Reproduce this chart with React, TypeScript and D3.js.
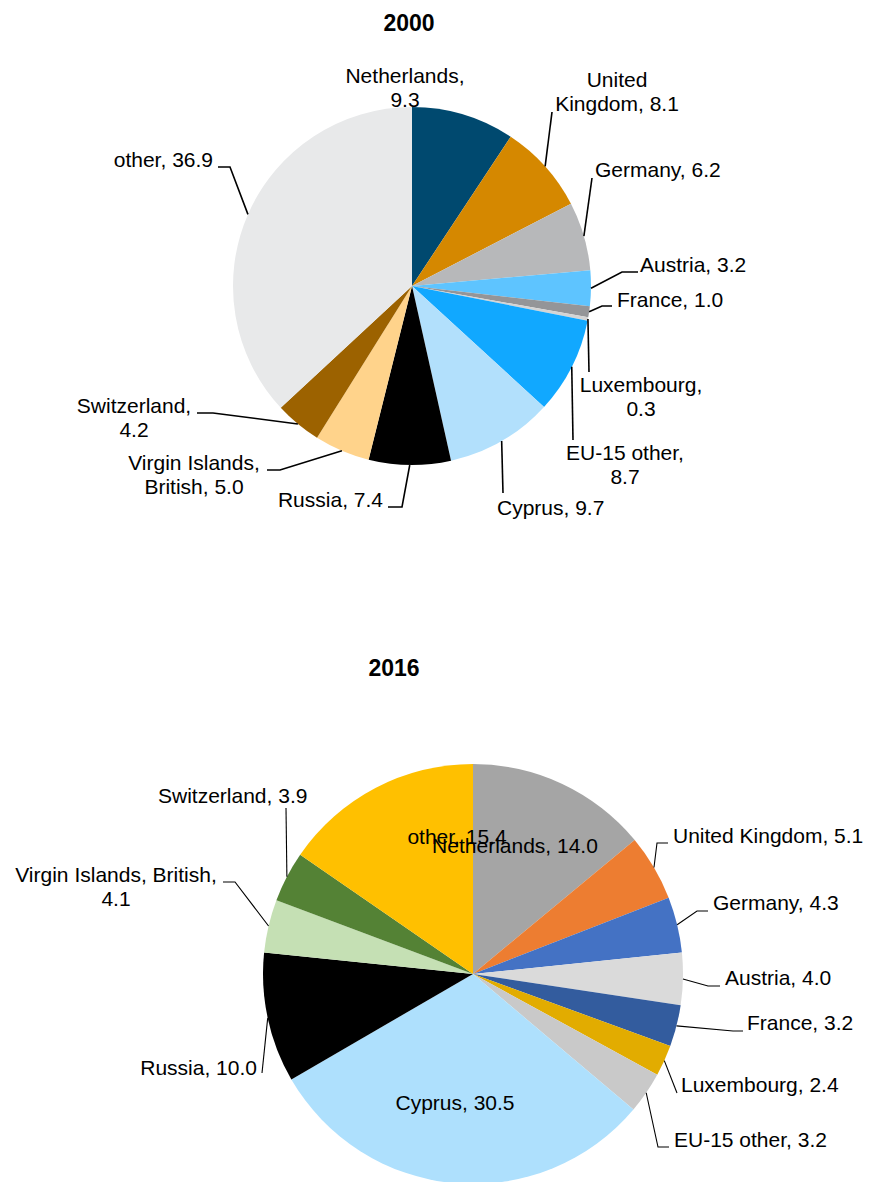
import React from "react";
import * as d3 from "d3";

// ---------- DATA ----------
const categories = [
  "Netherlands",
  "United Kingdom",
  "Germany",
  "Austria",
  "France",
  "Luxembourg",
  "EU-15 other",
  "Cyprus",
  "Russia",
  "Virgin Islands, British",
  "Switzerland",
  "other",
];
const values2000 = [9.3, 8.1, 6.2, 3.2, 1.0, 0.3, 8.7, 9.7, 7.4, 5.0, 4.2, 36.9];
const values2016 = [14.0, 5.1, 4.3, 4.0, 3.2, 2.4, 3.2, 30.5, 10.0, 4.1, 3.9, 15.4];
const titles = ["2000", "2016"];

const colors2000 = [
  "#00496F", "#D58800", "#B7B8BA", "#5EC4FF", "#949598", "#D4D4D4",
  "#11A8FF", "#B2E0FC", "#000000", "#FFD38B", "#9C6200", "#E8E9EA",
];
const colors2016 = [
  "#A5A5A5", "#ED7D31", "#4472C4", "#DADADA", "#335C9E", "#E2AC00",
  "#C9C9C9", "#AEE0FD", "#000000", "#C5E0B4", "#548235", "#FFC000",
];

// ---------- LAYOUT (label placement) ----------
type LabelLayout = {
  x: number;
  y: number;
  anchor: "start" | "middle" | "end";
  first: number; // words on first line (0 = single line)
  path: number[][] | null; // leader line points after the slice anchor
};

const labels2000: LabelLayout[] = [
  { x: 405, y: 83, anchor: "middle", first: 1, path: null },
  { x: 617, y: 87, anchor: "middle", first: 1, path: [[552, 112]] },
  { x: 595, y: 177, anchor: "start", first: 0, path: [[592, 178]] },
  { x: 640, y: 272, anchor: "start", first: 0, path: [[622, 272], [638, 272]] },
  { x: 617, y: 307, anchor: "start", first: 0, path: [[602, 306], [612, 306]] },
  { x: 641, y: 392, anchor: "middle", first: 1, path: [[589, 372]] },
  { x: 625, y: 460, anchor: "middle", first: 2, path: [[573, 440]] },
  { x: 497, y: 515, anchor: "start", first: 0, path: [[503, 493]] },
  { x: 383, y: 507, anchor: "end", first: 0, path: [[402, 507], [388, 507]] },
  { x: 194, y: 470, anchor: "middle", first: 2, path: [[280, 470], [267, 470]] },
  { x: 134, y: 413, anchor: "middle", first: 1, path: [[213, 413], [197, 413]] },
  { x: 213, y: 167, anchor: "end", first: 0, path: [[230, 167], [218, 167]] },
];

const labels2016: LabelLayout[] = [
  { x: 515, y: 853, anchor: "middle", first: 0, path: null },
  { x: 673, y: 843, anchor: "start", first: 0, path: [[657, 843], [668, 843]] },
  { x: 713, y: 910, anchor: "start", first: 0, path: [[697, 911], [708, 911]] },
  { x: 725, y: 985, anchor: "start", first: 0, path: [[708, 986], [720, 986]] },
  { x: 747, y: 1030, anchor: "start", first: 0, path: [[733, 1031], [743, 1031]] },
  { x: 681, y: 1092, anchor: "start", first: 0, path: [[677, 1093]] },
  { x: 674, y: 1147, anchor: "start", first: 0, path: [[658, 1147], [669, 1147]] },
  { x: 455, y: 1110, anchor: "middle", first: 0, path: null },
  { x: 257, y: 1075, anchor: "end", first: 0, path: [[262, 1073]] },
  { x: 116, y: 882, anchor: "middle", first: 3, path: [[235, 882], [223, 882]] },
  { x: 158, y: 803, anchor: "start", first: 0, path: [[286, 808]] },
  { x: 457, y: 844, anchor: "middle", first: 0, path: null },
];

const FONT = "'Liberation Sans', Arial, Helvetica, sans-serif";
const FS = 21;
const LH = 24;

type PieProps = {
  values: number[];
  colors: string[];
  layout: LabelLayout[];
  cx: number;
  cy: number;
  r: number;
  title: string;
  titleX: number;
  titleY: number;
  lineWidth: number;
};

function Pie({ values, colors, layout, cx, cy, r, title, titleX, titleY, lineWidth }: PieProps) {
  const pie = d3
    .pie<number>()
    .sort(null)
    .value((d) => d)
    .startAngle(0)
    .endAngle(2 * Math.PI);
  const arcs = pie(values);
  const arc = d3.arc<d3.PieArcDatum<number>>().innerRadius(0).outerRadius(r);
  const line = d3.line();

  return (
    <g>
      <text
        x={titleX}
        y={titleY}
        textAnchor="middle"
        fontFamily={FONT}
        fontWeight="bold"
        fontSize={23}
        fill="#000"
      >
        {title}
      </text>
      <g transform={`translate(${cx},${cy})`}>
        {arcs.map((a, i) => (
          <path key={i} d={arc(a) || ""} fill={colors[i]} />
        ))}
      </g>
      {arcs.map((a, i) => {
        const L = layout[i];
        const mid = (a.startAngle + a.endAngle) / 2;
        const ax = cx + r * Math.sin(mid);
        const ay = cy - r * Math.cos(mid);
        const words = `${categories[i]}, ${values[i].toFixed(1)}`.split(" ");
        const lines =
          L.first > 0
            ? [words.slice(0, L.first).join(" "), words.slice(L.first).join(" ")]
            : [words.join(" ")];
        const pts: [number, number][] = L.path
          ? [[ax, ay], ...L.path.map((p) => [p[0], p[1]] as [number, number])]
          : [];
        return (
          <g key={i}>
            {L.path && (
              <path d={line(pts) || ""} fill="none" stroke="#000" strokeWidth={lineWidth} />
            )}
            <text
              x={L.x}
              y={L.y}
              textAnchor={L.anchor}
              fontFamily={FONT}
              fontSize={FS}
              fill="#000"
            >
              {lines.map((t, k) => (
                <tspan key={k} x={L.x} dy={k === 0 ? 0 : LH}>
                  {t}
                </tspan>
              ))}
            </text>
          </g>
        );
      })}
    </g>
  );
}

export default function App() {
  return (
    <svg
      width={869}
      height={1182}
      style={{ position: "absolute", left: 0, top: 0, display: "block", background: "#fff" }}
    >
      <rect x={0} y={0} width={869} height={1182} fill="#fff" />
      <Pie
        values={values2000}
        colors={colors2000}
        layout={labels2000}
        cx={412}
        cy={286}
        r={179}
        title={titles[0]}
        titleX={409}
        titleY={31}
        lineWidth={1.6}
      />
      <Pie
        values={values2016}
        colors={colors2016}
        layout={labels2016}
        cx={473}
        cy={974}
        r={210}
        title={titles[1]}
        titleX={394}
        titleY={676}
        lineWidth={1.1}
      />
    </svg>
  );
}
